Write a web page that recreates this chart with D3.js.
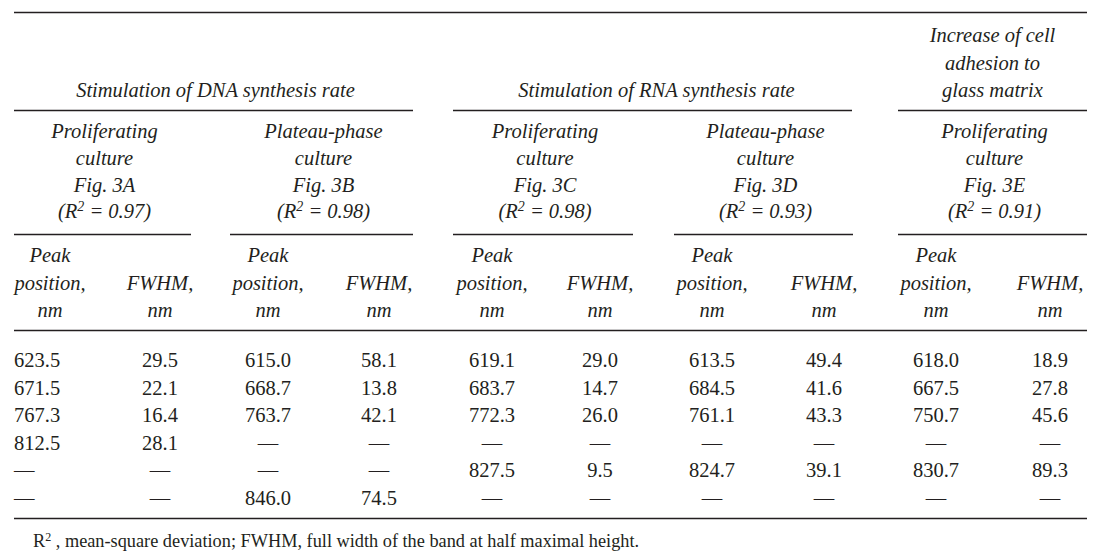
<!DOCTYPE html>
<html><head><meta charset="utf-8">
<script src="https://cdnjs.cloudflare.com/ajax/libs/d3/7.8.5/d3.min.js"></script>
<style>
html,body{margin:0;padding:0;background:#fff;}
svg{display:block;}
text{font-family:"Liberation Serif","Times New Roman",serif;fill:#231f20;}
</style></head><body>
<div id="chart"></div>
<script>
// ---- data ----
const groupTitles = [["Stimulation of DNA synthesis rate"], ["Stimulation of RNA synthesis rate"], ["Increase of cell", "adhesion to", "glass matrix"]];
const cultureNames = [["Proliferating", "culture"], ["Plateau-phase", "culture"], ["Proliferating", "culture"], ["Plateau-phase", "culture"], ["Proliferating", "culture"]];
const figLabels = ["Fig. 3A", "Fig. 3B", "Fig. 3C", "Fig. 3D", "Fig. 3E"];
const r2Values = ["0.97", "0.98", "0.98", "0.93", "0.91"];
const peakHeader = ["Peak", "position,", "nm"];
const fwhmHeader = ["FWHM,", "nm"];
const peak3A = [623.5, 671.5, 767.3, 812.5, null, null];
const fwhm3A = [29.5, 22.1, 16.4, 28.1, null, null];
const peak3B = [615.0, 668.7, 763.7, null, null, 846.0];
const fwhm3B = [58.1, 13.8, 42.1, null, null, 74.5];
const peak3C = [619.1, 683.7, 772.3, null, 827.5, null];
const fwhm3C = [29.0, 14.7, 26.0, null, 9.5, null];
const peak3D = [613.5, 684.5, 761.1, null, 824.7, null];
const fwhm3D = [49.4, 41.6, 43.3, null, 39.1, null];
const peak3E = [618.0, 667.5, 750.7, null, 830.7, null];
const fwhm3E = [18.9, 27.8, 45.6, null, 89.3, null];
const footnote = ["R", "2", " , mean-square deviation; FWHM, full width of the band at half maximal height."];

// ---- layout ----
const W = 1096, H = 559;
const svg = d3.select("#chart").append("svg").attr("width", W).attr("height", H);
const ink = "#231f20";
const fs = 20.5;
const L = 14, R = 1087;
const lineH = 27.4;

const columns = [peak3A, fwhm3A, peak3B, fwhm3B, peak3C, fwhm3C, peak3D, fwhm3D, peak3E, fwhm3E];
const colX = [50, 160, 268, 379, 492, 600, 712, 824, 936, 1050];
const subSpans = [[14, 191], [230, 413], [453, 633], [674, 853], [898, 1087]];
const groupSpans = [[14, 413], [453, 852], [898, 1087]];

function hline(x1, x2, y) {
  svg.append("line").attr("x1", x1).attr("x2", x2).attr("y1", y).attr("y2", y)
    .attr("stroke", ink).attr("stroke-width", 1.3);
}

// rules
hline(L, R, 12.5);
groupSpans.forEach(s => hline(s[0], s[1], 110.5));
subSpans.forEach(s => hline(s[0], s[1], 234.5));
hline(L, R, 330.5);
hline(L, R, 518.5);

// group titles (bottom aligned at y=97)
groupTitles.forEach((lines, i) => {
  const cx = (groupSpans[i][0] + groupSpans[i][1]) / 2 + (i === 0 ? 2 : (i === 1 ? 4 : 0));
  lines.forEach((t, j) => {
    svg.append("text").attr("x", cx).attr("y", 97 - (lines.length - 1 - j) * lineH)
      .attr("text-anchor", "middle").attr("font-style", "italic").attr("font-size", fs).text(t);
  });
});

// culture sub headers
cultureNames.forEach((lines, i) => {
  const cx = (subSpans[i][0] + subSpans[i][1]) / 2 + 2;
  const g = svg.append("g").attr("font-style", "italic").attr("font-size", fs).attr("text-anchor", "middle");
  lines.concat([figLabels[i]]).forEach((t, j) => {
    g.append("text").attr("x", cx).attr("y", 138 + j * 26.8).text(t);
  });
  const r = g.append("text").attr("x", cx).attr("y", 138 + 3 * 26.8);
  r.append("tspan").text("(R");
  r.append("tspan").attr("font-size", fs * 0.68).attr("dy", -7).text("2");
  r.append("tspan").attr("dy", 7).text(" = " + r2Values[i] + ")");
});

// column headers
columns.forEach((col, i) => {
  const hdr = i % 2 === 0 ? peakHeader : fwhmHeader;
  const base = 317 - (hdr.length - 1) * 27.5;
  hdr.forEach((t, j) => {
    svg.append("text").attr("x", colX[i]).attr("y", base + j * 27.5)
      .attr("text-anchor", "middle").attr("font-style", "italic").attr("font-size", fs).text(t);
  });
});

// data rows
const rowY = d3.scaleLinear().domain([0, 5]).range([367, 505]);
const fmt = d3.format(".1f");
columns.forEach((col, i) => {
  svg.append("g").selectAll("text").data(col).join("text")
    .attr("x", i === 0 ? L : colX[i])
    .attr("y", (d, k) => rowY(k))
    .attr("text-anchor", i === 0 ? "start" : "middle")
    .attr("font-size", fs)
    .text(d => d === null ? "\u2014" : fmt(d));
});

// footnote
const fn = svg.append("text").attr("x", 33).attr("y", 547).attr("font-size", 18.3);
fn.append("tspan").text(footnote[0]);
fn.append("tspan").attr("font-size", 12).attr("dy", -6).text(footnote[1]);
fn.append("tspan").attr("dy", 6).text(footnote[2]);
</script>
</body></html>
